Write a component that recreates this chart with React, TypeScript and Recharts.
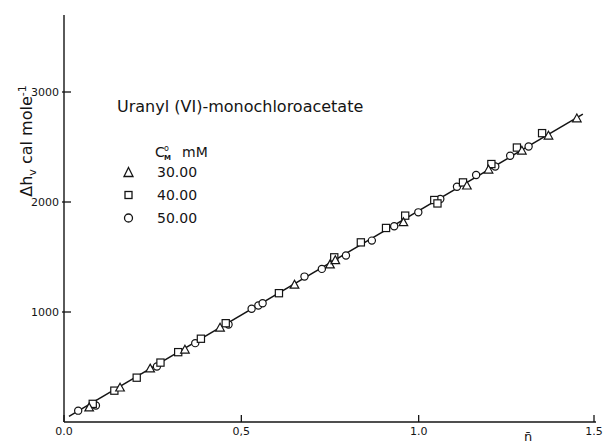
import React from 'react';
import { ComposedChart, Scatter, XAxis, YAxis } from 'recharts';

// ---- data ----
const xTicks = [0, 0.5, 1.0, 1.5];
const xTickLabels = ['0.0', '0,5', '1.0', '1.5'];
const yTicks = [1000, 2000, 3000];

const tri30 = [
  { x: 0.071, y: 131 }, { x: 0.158, y: 312 }, { x: 0.243, y: 485 }, { x: 0.341, y: 657 },
  { x: 0.44, y: 857 }, { x: 0.65, y: 1247 }, { x: 0.75, y: 1431 }, { x: 0.765, y: 1470 },
  { x: 0.957, y: 1815 }, { x: 1.136, y: 2148 }, { x: 1.197, y: 2293 }, { x: 1.291, y: 2466 },
  { x: 1.366, y: 2602 }, { x: 1.446, y: 2759 },
];
const sq40 = [
  { x: 0.081, y: 165 }, { x: 0.142, y: 285 }, { x: 0.205, y: 403 }, { x: 0.272, y: 540 },
  { x: 0.322, y: 635 }, { x: 0.386, y: 757 }, { x: 0.456, y: 898 }, { x: 0.606, y: 1171 },
  { x: 0.762, y: 1497 }, { x: 0.837, y: 1633 }, { x: 0.908, y: 1764 }, { x: 0.962, y: 1876 },
  { x: 1.044, y: 2018 }, { x: 1.053, y: 1987 }, { x: 1.125, y: 2178 }, { x: 1.205, y: 2345 },
  { x: 1.277, y: 2495 }, { x: 1.348, y: 2626 },
];
const circ50 = [
  { x: 0.04, y: 103 }, { x: 0.09, y: 150 }, { x: 0.262, y: 505 }, { x: 0.37, y: 717 },
  { x: 0.464, y: 887 }, { x: 0.529, y: 1029 }, { x: 0.548, y: 1059 }, { x: 0.56, y: 1080 },
  { x: 0.678, y: 1322 }, { x: 0.727, y: 1392 }, { x: 0.795, y: 1513 }, { x: 0.868, y: 1649 },
  { x: 0.931, y: 1779 }, { x: 0.999, y: 1906 }, { x: 1.061, y: 2027 }, { x: 1.108, y: 2139 },
  { x: 1.162, y: 2245 }, { x: 1.216, y: 2323 }, { x: 1.258, y: 2420 }, { x: 1.31, y: 2505 },
];
const fitLine = [{ x: 0.014, y: 52 }, { x: 1.463, y: 2798 }];

const legendTitle = 'Uranyl (VI)-monochloroacetate';
const legendLabels = ['30.00', '40.00', '50.00'];

// ---- styling ----
const INK = '#141414';
const FONT = '"DejaVu Sans", sans-serif';

const TriShape = (p: any) => {
  const { cx, cy } = p;
  if (cx == null || cy == null) return null;
  return (
    <path
      d={`M${cx},${cy - 4.5} L${cx + 4.3},${cy + 3.3} L${cx - 4.3},${cy + 3.3} Z`}
      fill="#fff" stroke={INK} strokeWidth={1.2}
    />
  );
};
const SqShape = (p: any) => {
  const { cx, cy } = p;
  if (cx == null || cy == null) return null;
  return <rect x={cx - 3.6} y={cy - 3.6} width={7.2} height={7.2} fill="#fff" stroke={INK} strokeWidth={1.2} />;
};
const CircShape = (p: any) => {
  const { cx, cy } = p;
  if (cx == null || cy == null) return null;
  return <circle cx={cx} cy={cy} r={3.6} fill="#fff" stroke={INK} strokeWidth={1.2} />;
};
const NoShape = () => null;

const XTick = (props: any) => {
  const { x, y, payload } = props;
  const i = xTicks.indexOf(payload.value);
  return (
    <g>
      <line x1={x} x2={x} y1={y} y2={y - 7} stroke={INK} strokeWidth={1.3} />
      <text x={x} y={y + 13} textAnchor="middle" fontSize={11} fontFamily={FONT} fill={INK}>
        {xTickLabels[i]}
      </text>
    </g>
  );
};

const YTick = (props: any) => {
  const { x, y, payload } = props;
  return (
    <g>
      <line x1={x - 2} x2={x + 7} y1={y} y2={y} stroke={INK} strokeWidth={1.3} />
      <text x={x - 5} y={y + 4} textAnchor="end" fontSize={11} fontFamily={FONT} fill={INK}>
        {payload.value}
      </text>
    </g>
  );
};

export default function App() {
  return (
    <div style={{ position: 'absolute', left: 0, top: 0, width: 604, height: 444, background: '#fff', overflow: 'hidden' }}>
      <ComposedChart width={604} height={444} margin={{ top: 15, right: 8, bottom: 0, left: 0 }}>
        <XAxis
          type="number" dataKey="x" domain={[0, 1.5]} ticks={xTicks} height={22}
          tick={<XTick />} tickLine={false} tickSize={0} tickMargin={0}
          axisLine={{ stroke: INK, strokeWidth: 1.4 }} allowDataOverflow
        />
        <YAxis
          type="number" dataKey="y" domain={[0, 3700]} ticks={yTicks} width={64}
          tick={<YTick />} tickLine={false} tickSize={0} tickMargin={0}
          axisLine={{ stroke: INK, strokeWidth: 1.4 }} allowDataOverflow
        />
        <Scatter data={fitLine} line={{ stroke: INK, strokeWidth: 1.5 }} shape={NoShape} isAnimationActive={false} />
        <Scatter data={circ50} shape={CircShape} isAnimationActive={false} />
        <Scatter data={sq40} shape={SqShape} isAnimationActive={false} />
        <Scatter data={tri30} shape={TriShape} isAnimationActive={false} />
      </ComposedChart>
      <svg width={604} height={444} style={{ position: 'absolute', left: 0, top: 0, pointerEvents: 'none' }} fontFamily={FONT}>
        <text x={117} y={112} fontSize={16} fill={INK}>{legendTitle}</text>
        <text x={155} y={157} fontSize={14} fill={INK}>C</text>
        <text x={164} y={151} fontSize={8} fill={INK}>o</text>
        <text x={164} y={160} fontSize={7} fontWeight="bold" fill={INK}>M</text>
        <text x={182} y={157} fontSize={14} fill={INK}>mM</text>
        <path d="M128.5,167.5 L133,176.5 L124,176.5 Z" fill="#fff" stroke={INK} strokeWidth={1.3} />
        <rect x={125} y={191.5} width={7} height={7} fill="#fff" stroke={INK} strokeWidth={1.3} />
        <circle cx={128.5} cy={218} r={4} fill="#fff" stroke={INK} strokeWidth={1.3} />
        {legendLabels.map((t, i) => (
          <text key={t} x={157} y={177 + i * 23} fontSize={14} fill={INK}>{t}</text>
        ))}
        <text transform="rotate(-90)" x={-141} y={32} textAnchor="middle" fontSize={16} fill={INK}>
          Δh<tspan dy={4} fontSize={11}>v</tspan>
          <tspan dy={-4}> cal mole</tspan>
          <tspan dy={-6} fontSize={11}>-1</tspan>
        </text>
        <text x={524} y={441} fontSize={13} fill={INK}>n̄</text>
      </svg>
    </div>
  );
}
